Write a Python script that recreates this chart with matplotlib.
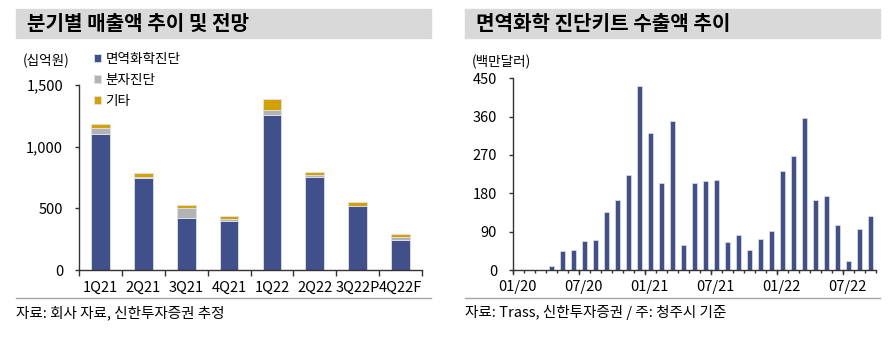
import numpy as np
import matplotlib
matplotlib.use('Agg')
import matplotlib.pyplot as plt
from matplotlib.patches import Rectangle
from matplotlib.lines import Line2D

plt.rcParams['font.family'] = ['Noto Sans CJK KR', 'DejaVu Sans']

# Left chart: quarterly sales (십억원)
quarters = ['1Q21', '2Q21', '3Q21', '4Q21', '1Q22', '2Q22', '3Q22P', '4Q22F']
immuno = [1100, 748, 425, 395, 1255, 757, 516, 246]
molecular = [50, 10, 78, 20, 45, 12, 6, 22]
other = [30, 25, 25, 25, 85, 25, 27, 26]
series_names = ['면역화학진단', '분자진단', '기타']

# Right chart: monthly exports (백만달러), 01/20 .. 09/22
exports = [0, 0, 0, 10, 44, 47, 68, 71, 136, 164, 222, 431,
           322, 205, 349, 58, 205, 208, 211, 65, 82, 47, 72, 92,
           232, 267, 356, 164, 174, 106, 20, 96, 127]
month_labels = ['01/20', '07/20', '01/21', '07/21', '01/22', '07/22']

NAVY = '#414f8a'
GREY = '#b3b3b3'
GOLD = '#d3a200'
EDGE = '#dfe1ec'
W, H = 896, 337

fig = plt.figure(figsize=(W / 100, H / 100), dpi=100)


def px_box(x0, y0, x1, y1):
    # pixel box (top-left origin) -> figure fraction rect
    return [x0 / W, 1 - y1 / H, (x1 - x0) / W, (y1 - y0) / H]


def header(x0, x1, title):
    fig.patches.append(Rectangle((x0 / W, 1 - 38 / H), (x1 - x0) / W, 29 / H,
                                 transform=fig.transFigure, color='#d9d9d9', zorder=0))
    fig.text((x0 + 11) / W, 1 - 23.5 / H, title, fontsize=14.5, fontweight='bold',
             va='center', ha='left')
    fig.add_artist(Line2D([x0 / W, x1 / W], [1 - 298 / H] * 2, color='#a6a6a6', lw=1))


def style_axis(ax):
    for s in ['top', 'right']:
        ax.spines[s].set_visible(False)
    for s in ['left', 'bottom']:
        ax.spines[s].set_color('#333333')
        ax.spines[s].set_linewidth(1)
    ax.tick_params(axis='y', length=3, width=1, color='#333333', pad=8.5, labelsize=10.5)


# ---- left chart ----
header(16, 431, '분기별 매출액 추이 및 전망')
ax1 = fig.add_axes(px_box(79, 85, 422, 270))
x = np.arange(len(quarters))
bw = 0.44
bottom2 = np.array(immuno)
bottom3 = bottom2 + np.array(molecular)
ax1.bar(x, immuno, bw, color=NAVY, edgecolor=EDGE, lw=0.6, label=series_names[0])
ax1.bar(x, molecular, bw, bottom=bottom2, color=GREY, edgecolor=EDGE, lw=0.6, label=series_names[1])
ax1.bar(x, other, bw, bottom=bottom3, color=GOLD, edgecolor=EDGE, lw=0.6, label=series_names[2])
ax1.set_xlim(-0.5, len(quarters) - 0.5)
ax1.set_ylim(0, 1500)
ax1.set_yticks([0, 500, 1000, 1500])
ax1.set_yticklabels(['0', '500', '1,000', '1,500'])
ax1.set_xticks(x)
ax1.set_xticklabels(quarters)
ax1.set_xticks(np.arange(-0.5, len(quarters)), minor=True)
ax1.tick_params(axis='x', which='major', length=0, pad=8, labelsize=10.5)
ax1.tick_params(axis='x', which='minor', length=4, width=1, color='#333333')
style_axis(ax1)
fig.text(23 / W, 1 - 61 / H, '(십억원)', fontsize=9.8, va='center', ha='left')
ax1.legend(loc='upper left', bbox_to_anchor=(94 / W, 1 - 52 / H),
           bbox_transform=fig.transFigure, frameon=False, fontsize=9.8,
           handlelength=0.5, handleheight=0.5, handletextpad=0.35,
           labelspacing=0.5, borderpad=0, borderaxespad=0)

# ---- right chart ----
header(465, 880, '면역화학 진단키트 수출액 추이')
ax2 = fig.add_axes(px_box(513, 78.3, 876, 270))
m = np.arange(len(exports))
ax2.bar(m + 0.5, exports, 0.46, color=NAVY, edgecolor=EDGE, lw=0.5)
ax2.set_xlim(0, len(exports))
ax2.set_ylim(0, 450)
ax2.set_yticks([0, 90, 180, 270, 360, 450])
ax2.set_xticks(np.arange(0, len(exports), 6) + 0.4)
ax2.set_xticklabels(month_labels)
ax2.set_xticks(np.arange(0, len(exports) + 1), minor=True)
ax2.tick_params(axis='x', which='major', length=0, pad=7, labelsize=10.5)
ax2.tick_params(axis='x', which='minor', length=2, width=1, color='#333333')
for t in np.arange(0, len(exports), 6):
    ax2.plot([t, t], [0, -10], color='#333333', lw=1, clip_on=False)
style_axis(ax2)
fig.text(472 / W, 1 - 62 / H, '(백만달러)', fontsize=9.8, va='center', ha='left')

# sources
fig.text(16 / W, 1 - 313 / H, '자료: 회사 자료, 신한투자증권 추정', fontsize=10.5, va='center', ha='left')
fig.text(465 / W, 1 - 313 / H, '자료: Trass, 신한투자증권 / 주: 청주시 기준', fontsize=10.5,
         va='center', ha='left')

fig.savefig('out.png', dpi=100)
